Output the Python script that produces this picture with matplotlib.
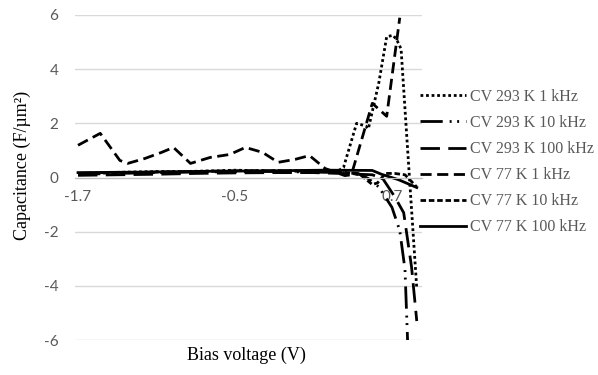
import numpy as np
import matplotlib
matplotlib.use('Agg')
import matplotlib.pyplot as plt

plt.rcParams['axes.unicode_minus'] = False

# series data (bias voltage in V, capacitance in F/um^2)
x_293_1k = [-1.7, -1.5, -1.3, -1.1, -0.9, -0.7, -0.5, -0.3, -0.1, 0.1, 0.28, 0.33, 0.43, 0.50, 0.52, 0.60, 0.66, 0.71, 0.74, 0.77, 0.83, 0.89]
y_293_1k = [0.15, 0.18, 0.2, 0.22, 0.22, 0.24, 0.27, 0.25, 0.24, 0.25, 0.22, 0.37, 2.0, 1.9, 1.8, 3.5, 5.2, 5.25, 5.05, 4.75, 0.3, -4.1]

x_293_10k = [-1.7, -1.4, -1.1, -0.8, -0.5, -0.2, 0.1, 0.3, 0.44, 0.52, 0.60, 0.70, 0.76, 0.80, 0.82]
y_293_10k = [0.12, 0.15, 0.18, 0.2, 0.22, 0.22, 0.2, 0.18, 0.15, -0.04, -0.35, -1.1, -1.96, -3.4, -6.05]

x_293_100k = [-1.7, -1.4, -1.1, -0.8, -0.5, -0.2, 0.1, 0.3, 0.45, 0.55, 0.63, 0.72, 0.79, 0.85, 0.89]
y_293_100k = [0.08, 0.1, 0.12, 0.15, 0.17, 0.18, 0.18, 0.15, 0.12, 0.1, -0.04, -0.7, -1.3, -3.3, -5.3]

x_77_1k = [-1.7, -1.53, -1.38, -1.32, -1.19, -1.06, -0.97, -0.84, -0.69, -0.54, -0.42, -0.29, -0.17, -0.04, 0.07, 0.19, 0.34, 0.39, 0.55, 0.66, 0.76]
y_77_1k = [1.19, 1.63, 0.63, 0.52, 0.70, 0.93, 1.11, 0.52, 0.74, 0.85, 1.11, 0.93, 0.56, 0.67, 0.81, 0.33, 0.07, 0.1, 2.74, 2.26, 5.9]

x_77_10k = [-1.7, -1.4, -1.1, -0.8, -0.5, -0.2, 0.1, 0.3, 0.46, 0.55, 0.59, 0.65, 0.72, 0.80, 0.89]
y_77_10k = [0.15, 0.17, 0.2, 0.22, 0.25, 0.25, 0.23, 0.22, 0.1, -0.26, -0.2, 0.15, 0.15, 0.1, -0.35]

x_77_100k = [-1.7, -1.2, -0.7, -0.2, 0.2, 0.55, 0.62, 0.75, 0.89]
y_77_100k = [0.18, 0.2, 0.23, 0.25, 0.27, 0.26, 0.12, -0.08, -0.37]

labels = ['CV 293 K 1 kHz', 'CV 293 K 10 kHz', 'CV 293 K 100 kHz',
          'CV 77 K 1 kHz', 'CV 77 K 10 kHz', 'CV 77 K 100 kHz']
xticks = [-1.7, -0.5, 0.7]
xtick_labels = ['-1.7', '-0.5', '0.7']
yticks = [-6, -4, -2, 0, 2, 4, 6]

grey = '#595959'
fig = plt.figure(figsize=(5.98, 3.75), dpi=100)
ax = fig.add_axes([75/598, 35/375, 347/598, 325/375])

styles = [(0, (1, 1)),
          (0, (8, 2.5, 0.7, 2, 0.7, 2.5)),
          (0, (7, 3)),
          (0, (4, 2)),
          (0, (2, 1)),
          '-']
series = [(x_293_1k, y_293_1k), (x_293_10k, y_293_10k), (x_293_100k, y_293_100k),
          (x_77_1k, y_77_1k), (x_77_10k, y_77_10k), (x_77_100k, y_77_100k)]
for (xs, ys), ls, lab in zip(series, styles, labels):
    ax.plot(xs, ys, color='black', lw=2.0, linestyle=ls, label=lab)

ax.set_xlim(-1.723, 0.93)
ax.set_ylim(-6, 6)
ax.set_yticks(yticks)
ax.set_xticks(xticks)
ax.set_xticklabels(xtick_labels)
ax.grid(axis='y', color='#d9d9d9', lw=1)
ax.set_axisbelow(True)
for s in ['top', 'right', 'left']:
    ax.spines[s].set_visible(False)
ax.spines['bottom'].set_position(('data', 0))
ax.spines['bottom'].set_color('#bfbfbf')
ax.tick_params(length=0, labelcolor=grey, labelsize=11)
ax.tick_params(axis='y', pad=12)
ax.tick_params(axis='x', pad=9)
for t in ax.get_xticklabels() + ax.get_yticklabels():
    t.set_family('Lato')

fig.text(246/598, 1 - 355/375, 'Bias voltage (V)', family='Liberation Serif',
         fontsize=13, ha='center', va='center')
fig.text(22/598, 1 - 165/375, 'Capacitance (F/µm²)', family='Liberation Serif',
         fontsize=13, ha='center', va='center', rotation=90)

leg = fig.legend(loc='upper left', bbox_to_anchor=(420/598, 1 - 89/375),
                 frameon=False, prop={'family': 'Liberation Serif', 'size': 11.5},
                 handlelength=2.85, handletextpad=0.3, labelspacing=0.63,
                 borderaxespad=0, borderpad=0)
for t in leg.get_texts():
    t.set_color(grey)

fig.savefig('out.png', dpi=100)
